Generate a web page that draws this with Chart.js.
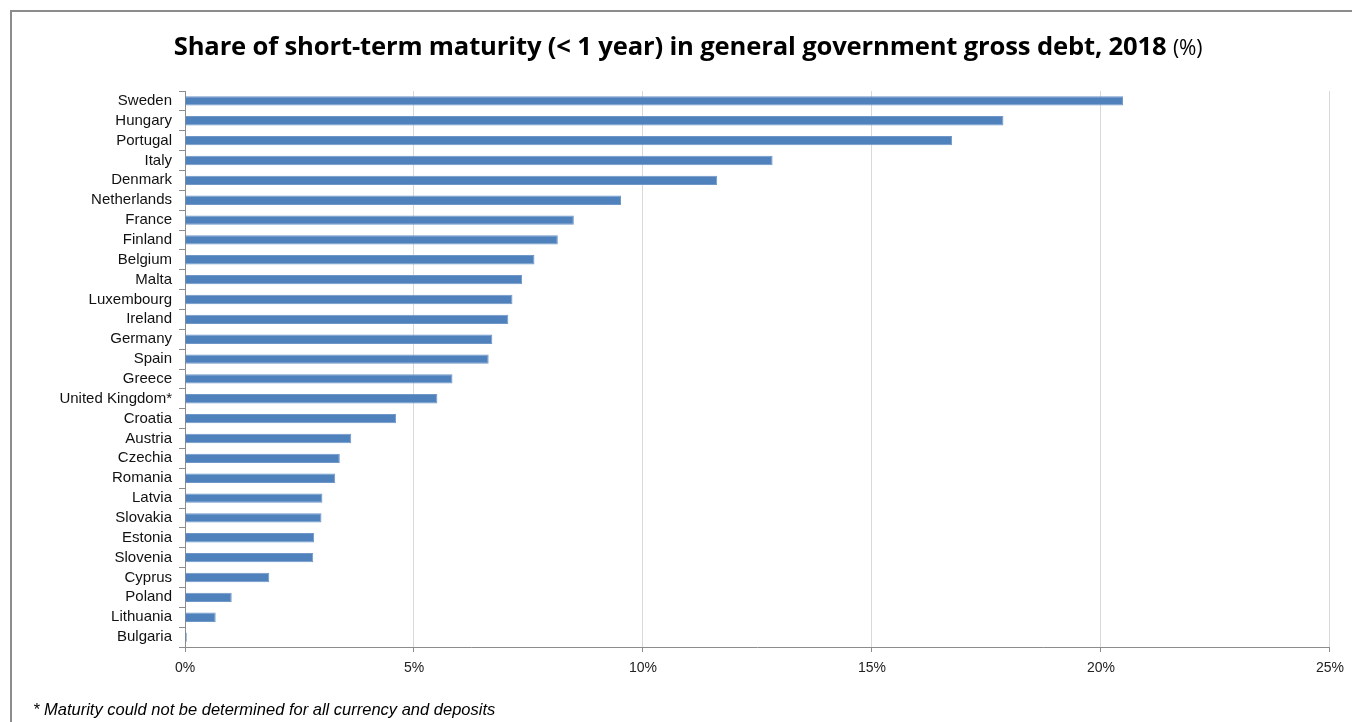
<!DOCTYPE html>
<html>
<head>
<meta charset="utf-8">
<script src="https://cdn.jsdelivr.net/npm/chart.js@4.4.1/dist/chart.umd.min.js"></script>
<style>
  html, body { margin: 0; padding: 0; background: #fff; }
  body { width: 1352px; height: 722px; position: relative; overflow: hidden; }
  #frame {
    position: absolute; left: 10px; top: 10px; width: 1400px; height: 760px;
    border-left: 2px solid #8c8c8c; border-top: 2px solid #8c8c8c;
  }
  #title {
    position: absolute; left: 0; top: 28px; width: 1376px; text-align: center;
    font-family: "Open Sans", sans-serif; font-weight: bold;
    font-size: 25.6px; letter-spacing: -0.15px; color: #000; white-space: nowrap;
  }
  #title span { font-weight: normal; font-size: 21px; }
  #note {
    position: absolute; left: 33px; top: 700px;
    font-family: "Liberation Sans", Arial, sans-serif; font-style: italic;
    font-size: 16.5px; color: #000; white-space: nowrap;
  }
  #wrap { position: absolute; left: 0; top: 0; width: 1352px; height: 722px; }
</style>
</head>
<body>
<div id="frame"></div>
<div id="wrap"><canvas id="debtChart"></canvas></div>
<div id="title">Share of short-term maturity (&lt; 1 year) in general government gross debt, 2018 <span>(%)</span></div>
<div id="note">* Maturity could not be determined for all currency and deposits</div>
<script>
// Countries, top to bottom as in the chart
const countries = [
    "Sweden", "Hungary", "Portugal", "Italy", "Denmark", "Netherlands", "France",
    "Finland", "Belgium", "Malta", "Luxembourg", "Ireland", "Germany", "Spain",
    "Greece", "United Kingdom*", "Croatia", "Austria", "Czechia", "Romania",
    "Latvia", "Slovakia", "Estonia", "Slovenia", "Cyprus", "Poland", "Lithuania",
    "Bulgaria"
];

// Share of short-term maturity (% of gross debt)
const shortTermShare = [
    20.48, 17.87, 16.75, 12.83, 11.62, 9.52, 8.49,
    8.14, 7.63, 7.36, 7.15, 7.06, 6.71, 6.63,
    5.84, 5.51, 4.61, 3.63, 3.38, 3.28,
    3.00, 2.98, 2.82, 2.80, 1.84, 1.02, 0.67,
    0.04
];

// X axis ticks
const xTicks = [0, 5, 10, 15, 20, 25];

document.addEventListener("DOMContentLoaded", () => {
    const ctx = document.getElementById("debtChart").getContext("2d");

    new Chart(ctx, {
        type: "bar",
        data: {
            labels: countries,
            datasets: [
                {
                    label: "Short-term share",
                    data: shortTermShare,
                    backgroundColor: "#4f81bd",
                    borderColor: "#6f97c8",
                    borderWidth: 1,
                    barPercentage: 0.47,
                    categoryPercentage: 1.0,
                },
            ],
        },
        options: {
            indexAxis: "y",
            responsive: true,
            maintainAspectRatio: false,
            animation: false,
            layout: { padding: { left: 0, top: 91, right: 22, bottom: 0 } },
            plugins: {
                legend: { display: false },
                tooltip: { enabled: false },
            },
            scales: {
                x: {
                    min: 0,
                    max: 25,
                    afterBuildTicks: (scale) => {
                        scale.ticks = xTicks.map((v) => ({ value: v }));
                    },
                    afterFit: (scale) => { scale.height = 75; },
                    ticks: {
                        callback: (v) => v + "%",
                        color: "#222",
                        padding: 8,
                        maxRotation: 0,
                        font: { family: "'Liberation Sans', Arial, sans-serif", size: 14 },
                    },
                    grid: { color: "#d9d9d9", tickColor: "#8c8c8c", tickLength: 5, lineWidth: 1 },
                    border: { color: "#8c8c8c", width: 1 },
                },
                y: {
                    afterFit: (scale) => { scale.width = 185; },
                    ticks: {
                        color: "#111",
                        padding: 7,
                        autoSkip: false,
                        font: { family: "'Liberation Sans', Arial, sans-serif", size: 15 },
                    },
                    grid: { drawOnChartArea: false, offset: true, tickColor: "#8c8c8c", tickLength: 6 },
                    border: { color: "#8c8c8c", width: 1 },
                },
            },
        },
    });
});
</script>
</body>
</html>
